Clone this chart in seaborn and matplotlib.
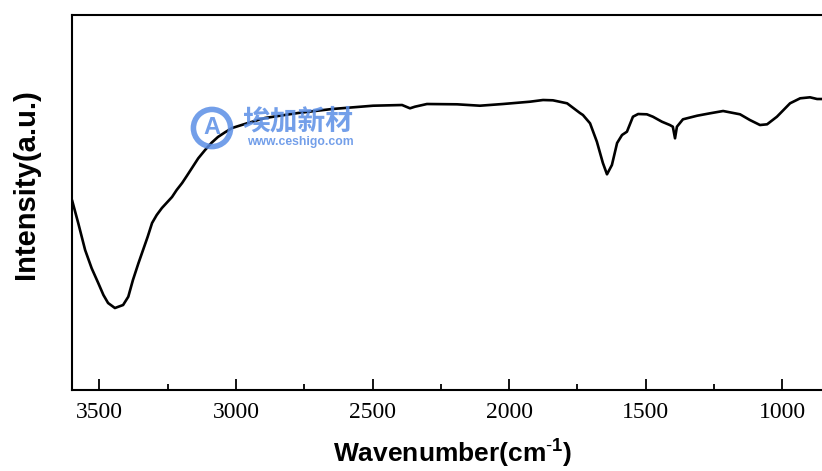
import matplotlib
matplotlib.use("Agg")
import matplotlib.pyplot as plt
import numpy as np
import pandas as pd
import seaborn as sns

# FTIR spectrum (intensity in arbitrary units)
wavenumber = [3600, 3577, 3552, 3528, 3504, 3485, 3468, 3443, 3413, 3394,
              3377, 3357, 3340, 3323, 3307, 3290, 3271, 3234, 3217, 3197,
              3180, 3161, 3138, 3113, 3089, 3066, 3040, 3014, 2956, 2894,
              2773, 2648, 2498, 2392, 2363, 2345, 2301, 2191, 2107, 2023,
              1924, 1876, 1840, 1788, 1741, 1730, 1704, 1679, 1657, 1642,
              1624, 1605, 1587, 1569, 1547, 1528, 1496, 1474, 1441, 1412,
              1401, 1393, 1386, 1364, 1312, 1265, 1217, 1155, 1119, 1082,
              1056, 1020, 972, 935, 899, 873, 855]
intensity = [189.5, 166.2, 139.5, 121.2, 106.5, 94.5, 86.5, 81.5, 84.5, 92.8,
             109.5, 126.2, 139.5, 152.8, 166.5, 174.5, 181.5, 192.5, 199.5, 206.5,
             213.5, 221.5, 231.2, 239.5, 246.8, 252.5, 257.2, 261.5, 266.5, 271.5,
             276.5, 280.5, 283.8, 284.5, 281.2, 282.8, 285.5, 285.2, 283.8, 285.5,
             287.8, 289.5, 289.2, 286.2, 276.5, 274.5, 266.2, 247.8, 226.5, 215.2,
             224.5, 246.5, 254.5, 257.8, 272.8, 275.5, 275.2, 272.8, 267.8, 264.5,
             262.8, 251.2, 262.8, 270.2, 273.8, 276.2, 278.5, 275.2, 269.5, 264.5,
             265.2, 272.8, 286.2, 291.2, 292.2, 290.5, 290.5]
major_ticks = [3500, 3000, 2500, 2000, 1500, 1000]
minor_ticks = [3250, 2750, 2250, 1750, 1250]

df = pd.DataFrame({"Wavenumber": wavenumber, "Intensity": intensity})

sns.set_style("ticks")
plt.rcParams["font.family"] = ["Liberation Sans", "DejaVu Sans"]
plt.rcParams["mathtext.fontset"] = "custom"
plt.rcParams["mathtext.rm"] = "Liberation Sans"
plt.rcParams["mathtext.bf"] = "Liberation Sans:bold"
plt.rcParams["text.color"] = "black"
plt.rcParams["axes.labelcolor"] = "black"
plt.rcParams["xtick.color"] = "black"

fig = plt.figure(figsize=(8.22, 4.71), dpi=100)
ax = fig.add_axes([0.0876, 0.173, 0.9307, 0.7962])

sns.lineplot(data=df, x="Wavenumber", y="Intensity", ax=ax, color="black",
             linewidth=1.9, sort=False, zorder=3)

ax.set_xlim(3600, 800)
ax.set_ylim(0, 375)
ax.set_xticks(major_ticks)
ax.set_xticks(minor_ticks, minor=True)
ax.set_yticks([])
ax.tick_params(axis="x", which="major", direction="in", length=8, width=1.3,
               pad=9, labelsize=17, colors="black")
ax.tick_params(axis="x", which="minor", direction="in", length=4, width=1.3,
               colors="black")
for lbl in ax.get_xticklabels():
    lbl.set_fontfamily("Liberation Serif")
for side in ["left", "bottom", "top", "right"]:
    ax.spines[side].set_linewidth(1.5)
    ax.spines[side].set_color("black")

ax.set_xlabel(r"Wavenumber(cm$^{\mathbf{\text{-}1}}$)", fontsize=19,
              fontweight="bold", color="black")
ax.set_ylabel("Intensity(a.u.)", fontsize=21, fontweight="bold", color="black")
ax.xaxis.set_label_coords(0.497, -0.124)
ax.yaxis.set_label_coords(-0.042, 0.547)

# watermark
blue = "#5a8ee6"
fig.text(212 / 822, 1 - 128 / 471, "A", fontsize=17, fontweight="bold",
         color=blue, ha="center", va="center", alpha=0.85, zorder=1,
         bbox=dict(boxstyle="circle,pad=0.3", fc="none", ec=blue, lw=4, alpha=0.85))
fig.text(242 / 822, 1 - 121 / 471, "埃加新材", fontsize=20, fontweight="heavy",
         color=blue, ha="left", va="center", alpha=0.85, zorder=1,
         family=["Noto Sans CJK SC", "DejaVu Sans"])
fig.text(247 / 822, 1 - 142.5 / 471, "www.ceshigo.com", fontsize=8.8,
         fontweight="bold", color=blue, ha="left", va="center", alpha=0.85, zorder=1)

fig.savefig("out.png", dpi=100)
